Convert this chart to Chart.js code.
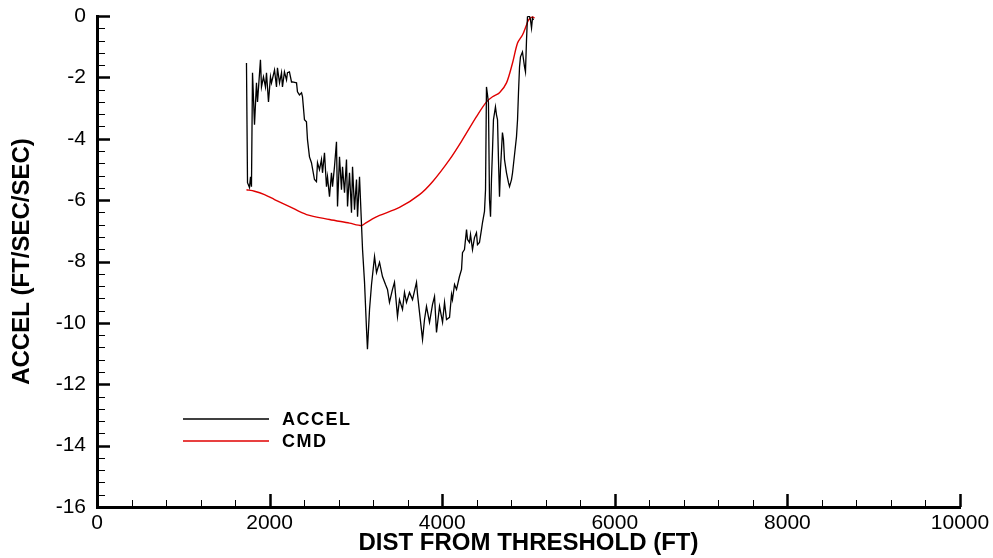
<!DOCTYPE html>
<html>
<head>
<meta charset="utf-8">
<script src="https://cdn.jsdelivr.net/npm/chart.js@4.4.1/dist/chart.umd.min.js"></script>
<style>
html, body { margin: 0; padding: 0; background: #fff; }
#wrap { width: 993px; height: 558px; }
</style>
</head>
<body>
<div id="wrap"><canvas id="accelChart" width="993" height="558"></canvas></div>
<script>
// measured accel vs distance from threshold
const distAccel = [1732,1744,1767,1779,1790,1802,1825,1848,1860,1894,1906,1929,1952,1964,1987,2010,2022,2057,2080,2091,
    2115,2138,2149,2172,2196,2207,2230,2254,2265,2312,2323,2346,2370,2381,2404,2427,2439,2462,2485,2520,
    2543,2555,2578,2601,2613,2636,2659,2671,2694,2717,2729,2752,2775,2787,2810,2833,2845,2868,2891,2903,
    2926,2949,2961,2984,3007,3019,3042,3065,3077,3100,3123,3134,3158,3181,3216,3239,3274,3308,3343,3366,
    3389,3424,3447,3482,3505,3540,3563,3586,3621,3656,3702,3714,3737,3772,3795,3818,3853,3888,3911,3934,
    3969,4004,4027,4050,4085,4108,4119,4143,4166,4200,4224,4235,4258,4282,4293,4316,4328,4351,4374,4397,
    4409,4432,4455,4467,4490,4502,4513,4525,4536,4548,4560,4571,4583,4594,4617,4629,4641,4652,4664,4675,
    4698,4710,4722,4745,4768,4780,4803,4815,4838,4861,4873,4884,4896,4907,4930,4954,4965,4977,4988,5011,
    5023,5035,5046,5058];
const accel = [-1.53,-5.43,-5.59,-5.24,-5.56,-1.85,-3.54,-2.18,-2.80,-1.43,-2.31,-1.98,-2.31,-1.85,-2.80,-1.98,-2.18,-1.76,-2.31,-1.69,
    -2.18,-1.85,-2.31,-1.82,-2.08,-1.85,-1.82,-2.15,-2.15,-2.18,-2.47,-2.57,-2.50,-2.63,-3.38,-3.45,-4.03,-4.59,-4.78,-5.33,
    -5.40,-4.78,-5.01,-4.68,-5.11,-4.46,-5.56,-5.24,-5.89,-5.11,-5.56,-4.91,-4.10,-6.21,-4.59,-5.66,-4.91,-5.76,-4.68,-6.21,
    -5.11,-6.41,-4.91,-6.31,-5.33,-6.54,-5.24,-6.80,-7.61,-8.68,-10.21,-10.86,-9.56,-8.75,-7.84,-8.36,-8.03,-8.49,-8.75,-8.91,
    -9.33,-8.91,-8.68,-9.79,-9.24,-9.56,-9.01,-9.33,-9.01,-9.24,-8.68,-9.07,-9.66,-10.54,-9.89,-9.46,-9.98,-9.40,-9.14,-10.31,
    -9.46,-9.98,-9.33,-9.89,-9.82,-9.07,-9.24,-8.75,-8.91,-8.49,-8.26,-7.71,-7.61,-6.96,-7.28,-7.38,-7.12,-7.61,-7.22,-7.06,
    -7.45,-7.38,-6.96,-6.73,-6.37,-5.66,-2.31,-2.57,-2.83,-5.98,-6.54,-5.33,-4.36,-3.38,-2.96,-3.22,-3.38,-4.68,-5.89,-5.01,
    -3.80,-4.03,-4.68,-5.11,-5.43,-5.56,-5.33,-5.11,-4.52,-3.93,-3.38,-2.50,-1.66,-1.33,-1.17,-1.66,-1.82,-0.78,-0.03,0.0,
    -0.13,-0.39,-0.07,-0.13];

// commanded accel
const distCmd = [1732,1825,1941,2057,2231,2428,2694,2926,3065,3111,3192,3274,3505,3737,3888,4085,4235,4397,4513,4583,
    4664,4745,4815,4873,4930,4977,5000,5046,5069];
const cmd = [-5.66,-5.71,-5.82,-5.98,-6.21,-6.47,-6.63,-6.75,-6.83,-6.75,-6.61,-6.50,-6.24,-5.82,-5.40,-4.68,-4.03,-3.28,-2.80,-2.63,
    -2.50,-2.18,-1.53,-0.88,-0.62,-0.29,-0.13,-0.03,-0.07];

const seriesNames = ['ACCEL', 'CMD'];
const xMin = 0, xMax = 10000, xStep = 2000, xMinor = 400;
const yMin = -16, yMax = 0, yStep = 2, yMinor = 0.4;

function toPoints(xs, ys) {
    return xs.map((v, i) => ({ x: v, y: ys[i] }));
}

// inward major/minor tick marks, placed through the scales
const tickMarks = {
    id: 'tickMarks',
    afterDraw(chart) {
        const ctx = chart.ctx;
        const x = chart.scales.x, y = chart.scales.y;
        const bottom = chart.chartArea.bottom, left = chart.chartArea.left;
        ctx.save();
        ctx.strokeStyle = '#000';
        const nx = Math.round((xMax - xMin) / xMinor);
        for (let i = 0; i <= nx; i++) {
            const px = Math.round(x.getPixelForValue(xMin + i * xMinor)) + 0.5;
            const major = i % (xStep / xMinor) === 0;
            ctx.lineWidth = major ? 2.5 : 1;
            ctx.beginPath();
            ctx.moveTo(px, bottom);
            ctx.lineTo(px, bottom - (major ? 13 : 7));
            ctx.stroke();
        }
        const ny = Math.round((yMax - yMin) / yMinor);
        for (let i = 0; i <= ny; i++) {
            const py = Math.round(y.getPixelForValue(yMin + i * yMinor)) + 0.5;
            const major = i % Math.round(yStep / yMinor) === 0;
            ctx.lineWidth = major ? 2.5 : 1;
            ctx.beginPath();
            ctx.moveTo(left, py);
            ctx.lineTo(left + (major ? 13 : 8), py);
            ctx.stroke();
        }
        ctx.restore();
    }
};

const lineLegend = {
    id: 'lineLegend',
    afterDraw(chart) {
        const ctx = chart.ctx;
        ctx.save();
        chart.data.datasets.forEach((ds, i) => {
            const ly = 419 + i * 22;
            ctx.strokeStyle = ds.borderColor;
            ctx.lineWidth = 1.3;
            ctx.beginPath();
            ctx.moveTo(183, ly);
            ctx.lineTo(269, ly);
            ctx.stroke();
            ctx.fillStyle = '#000';
            ctx.font = 'bold 18px "Liberation Sans", Arial, sans-serif';
            ctx.textBaseline = 'middle';
            ctx.letterSpacing = '1.5px';
            ctx.fillText(ds.label, 282, ly + 1);
        });
        ctx.restore();
    }
};

const tickFont = { family: '"Liberation Sans", Arial, sans-serif', size: 21 };
const titleFont = { family: '"Liberation Sans", Arial, sans-serif', size: 24, weight: 'bold' };

const ctx = document.getElementById('accelChart').getContext('2d');
window.myChart = new Chart(ctx, {
    type: 'line',
    data: {
        datasets: [
            { label: seriesNames[0], data: toPoints(distAccel, accel), borderColor: '#000000', borderWidth: 1.3, pointRadius: 0, tension: 0, fill: false },
            { label: seriesNames[1], data: toPoints(distCmd, cmd), borderColor: '#e00000', borderWidth: 1.4, pointRadius: 0, tension: 0.3, fill: false }
        ]
    },
    options: {
        responsive: false,
        animation: false,
        layout: { padding: { top: 16, right: 33, left: 0, bottom: 0 } },
        plugins: {
            legend: { display: false },
            tooltip: { enabled: false }
        },
        scales: {
            x: {
                type: 'linear',
                min: xMin, max: xMax,
                grid: { display: false, drawTicks: false },
                border: { display: true, color: '#000', width: 3 },
                ticks: { stepSize: xStep, color: '#000', padding: 4, maxRotation: 0, font: tickFont,
                    callback: v => String(v) },
                title: { display: true, text: 'DIST FROM THRESHOLD (FT)', color: '#000', padding: { top: 0, bottom: 0 }, font: titleFont },
                afterFit(scale) {
                    scale.height = 51;
                    scale.paddingLeft = 0;
                    scale.paddingRight = 0;
                }
            },
            y: {
                type: 'linear',
                min: yMin, max: yMax,
                grid: { display: false, drawTicks: false },
                border: { display: true, color: '#000', width: 3 },
                ticks: { stepSize: yStep, color: '#000', padding: 11, font: tickFont,
                    callback: v => String(v) },
                title: { display: true, text: 'ACCEL (FT/SEC/SEC)', color: '#000', padding: { top: 8, bottom: 0 }, font: titleFont },
                afterFit(scale) {
                    scale.width = 97;
                    scale.paddingTop = 0;
                    scale.paddingBottom = 0;
                }
            }
        }
    },
    plugins: [tickMarks, lineLegend]
});
</script>
</body>
</html>
